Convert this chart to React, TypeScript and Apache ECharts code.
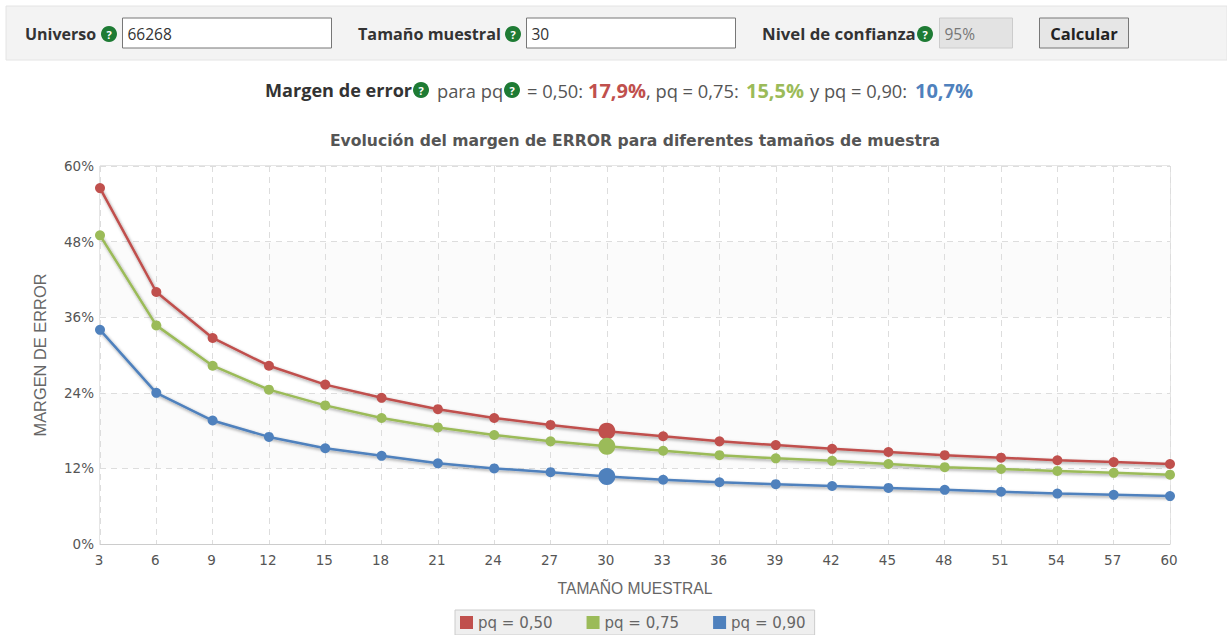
import React, { useEffect, useRef } from "react";
import * as echarts from "echarts";

const sizes = ["3","6","9","12","15","18","21","24","27","30","33","36","39","42","45","48","51","54","57","60"];
const pq50 = [56.5,40,32.7,28.3,25.3,23.2,21.4,20,18.9,17.9,17.1,16.3,15.7,15.1,14.6,14.1,13.7,13.3,13,12.7];
const pq75 = [49,34.7,28.3,24.5,22,20,18.5,17.3,16.3,15.5,14.8,14.1,13.6,13.2,12.7,12.2,11.9,11.6,11.3,11];
const pq90 = [34,24,19.6,17,15.2,14,12.8,12,11.4,10.7,10.2,9.8,9.5,9.2,8.9,8.6,8.3,8,7.8,7.6];
const seriesNames = ["pq = 0,50", "pq = 0,75", "pq = 0,90"];
const colors = ["#C0504D", "#9BBB59", "#4F81BD"];
const highlighted = "30";

const UI = "'Open Sans', sans-serif";
const CHART = "'DejaVu Sans', sans-serif";

const help = (x: number, y: number) => ({
  type: "group", x, y, children: [
    { type: "circle", shape: { cx: 0, cy: 0, r: 8 }, style: { fill: "#1E7B34" } },
    { type: "text", style: { x: 0, y: 0, text: "?", fill: "#fff", font: `bold 11px ${UI}`, align: "center", verticalAlign: "middle" } },
  ],
});
const label = (x: number, y: number, text: string, size: number) => ({
  type: "text", style: { x, y, text, fill: "#333", font: `bold ${size}px ${UI}`, verticalAlign: "middle" },
});
const run = (x: number, text: string, fill: string, font: string) => ({
  type: "text", style: { x, y: 90, text, fill, font, verticalAlign: "middle" },
});
const box = (x: number, w: number, text: string, fill: string, stroke: string, color: string) => ([
  { type: "rect", shape: { x, y: 18, width: w, height: 30 }, style: { fill, stroke, lineWidth: 1 } },
  { type: "text", style: { x: x + 5, y: 34, text, fill: color, font: `15.5px ${UI}`, verticalAlign: "middle" } },
]);

const mkSeries = (name: string, values: number[], color: string) => ({
  name, type: "line", data: values.map((v, i) => ({
    value: v, symbolSize: sizes[i] === highlighted ? 17 : 10,
  })),
  symbol: "circle", showSymbol: true, smooth: false,
  itemStyle: { color },
  lineStyle: { color, width: 2.5, shadowColor: "rgba(0,0,0,0.4)", shadowBlur: 3, shadowOffsetX: 1, shadowOffsetY: 1.5 },
  z: 3,
});

export default function App() {
  const ref = useRef<HTMLDivElement>(null);
  useEffect(() => {
    const chart = echarts.init(ref.current!, undefined, { renderer: "svg" });
    const normal = `18.3px ${UI}`;
    const strong = `bold 20px ${UI}`;
    chart.setOption({
      animation: false,
      backgroundColor: "#fff",
      title: {
        text: "Evolución del margen de ERROR para diferentes tamaños de muestra",
        left: 630, top: 128, textAlign: "center",
        textStyle: { color: "#555", fontFamily: CHART, fontSize: 15.6, fontWeight: "bold" },
      },
      grid: { left: 100, right: 57, top: 166, bottom: 91, containLabel: false, show: true, borderColor: "#ccc", borderWidth: 1, backgroundColor: "transparent" },
      legend: {
        left: 455, top: 610, padding: [5, 9, 5, 5], itemGap: 34,
        itemWidth: 13, itemHeight: 13, icon: "rect",
        backgroundColor: "#efefef", borderColor: "#ccc", borderWidth: 1, borderRadius: 0,
        textStyle: { color: "#666", fontFamily: CHART, fontSize: 15 },
        data: seriesNames,
      },
      xAxis: {
        type: "category", data: sizes, boundaryGap: false,
        name: "TAMAÑO MUESTRAL", nameLocation: "middle", nameGap: 36,
        nameTextStyle: { color: "#666", fontFamily: "'Liberation Sans', sans-serif", fontSize: 15.6 },
        axisLine: { lineStyle: { color: "#ccc" } }, axisTick: { show: false },
        axisLabel: { color: "#555", fontFamily: CHART, fontSize: 13.5, interval: 0, margin: 9, padding: [0, 2, 0, 0] },
        splitLine: { show: true, interval: 0, lineStyle: { color: "#ddd", type: [6, 5] } },
      },
      yAxis: {
        type: "value", min: 0, max: 60, interval: 12,
        name: "MARGEN DE ERROR", nameLocation: "middle", nameGap: 52,
        nameTextStyle: { color: "#666", fontFamily: "'Liberation Sans', sans-serif", fontSize: 16.4 },
        axisLine: { show: false }, axisTick: { show: false },
        axisLabel: { color: "#555", fontFamily: CHART, fontSize: 13.5, margin: 6, formatter: "{value}%" },
        splitLine: { lineStyle: { color: "#ddd", type: [6, 5] } },
        splitArea: { show: true, areaStyle: { color: ["#ffffff", "#fbfbfb"] } },
      },
      series: [
        mkSeries(seriesNames[0], pq50, colors[0]),
        mkSeries(seriesNames[1], pq75, colors[1]),
        mkSeries(seriesNames[2], pq90, colors[2]),
      ],
      graphic: [
        { type: "rect", z: -1, shape: { x: 6, y: 6, width: 1221, height: 54 }, style: { fill: "#f3f3f3", stroke: "#e4e4e4", lineWidth: 1 } },
        label(25, 33.5, "Universo", 16), help(109, 34),
        ...box(122.5, 209, "66268", "#fff", "#777", "#333"),
        label(358, 33.5, "Tamaño muestral", 16.2), help(513, 34),
        ...box(526.5, 209, "30", "#fff", "#777", "#333"),
        label(762, 33.5, "Nivel de confianza", 16.8), help(925, 34),
        ...box(939.5, 73, "95%", "#e3e3e3", "#ccc", "#777"),
        { type: "rect", shape: { x: 1039.5, y: 18, width: 89, height: 30 }, style: { fill: "#e6e6e6", stroke: "#777", lineWidth: 1 } },
        { type: "text", style: { x: 1084, y: 33.5, text: "Calcular", fill: "#222", font: `bold 16.5px ${UI}`, align: "center", verticalAlign: "middle" } },
        run(265, "Margen de error", "#333", `bold 18.1px ${UI}`), help(421, 90),
        run(437, "para pq", "#555", normal), help(512, 90),
        run(527, "= 0,50:", "#555", normal),
        run(588, "17,9%", colors[0], strong),
        run(646, ", pq = 0,75:", "#555", normal),
        run(746, "15,5%", colors[1], strong),
        run(810, "y pq = 0,90:", "#555", normal),
        run(915, "10,7%", colors[2], strong),
      ],
    });
    return () => chart.dispose();
  }, []);
  return <div ref={ref} style={{ position: "absolute", left: 0, top: 0, width: 1227, height: 635 }} />;
}
